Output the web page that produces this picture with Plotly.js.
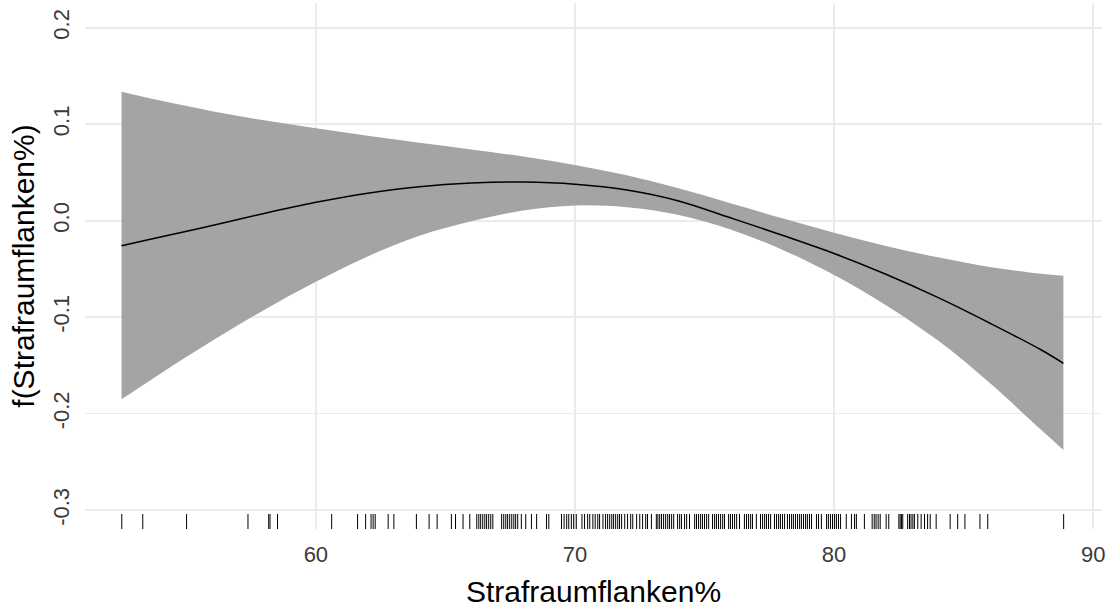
<!DOCTYPE html>
<html>
<head>
<meta charset="utf-8">
<script src="https://cdn.plot.ly/plotly-3.0.1.min.js"></script>
<style>html,body{margin:0;padding:0;background:#fff;}#chart{width:1115px;height:614px;}</style>
</head>
<body>
<div id="chart"></div>
<script>
// Smooth term estimate and confidence band
const xs = [52.5, 54, 56, 58, 60, 62, 64, 66, 68, 70, 72, 74, 76, 78, 80, 82, 84, 86, 88, 88.85];
const fit = [-0.0259, -0.0170, -0.0050, 0.0075, 0.0190, 0.0285, 0.0353, 0.0390, 0.0400, 0.0378, 0.0318, 0.0205, 0.0030, -0.0150, -0.0340, -0.0555, -0.0795, -0.1060, -0.1340, -0.1478];
const upper = [0.1337, 0.1245, 0.1135, 0.1040, 0.0957, 0.0880, 0.0808, 0.0738, 0.0665, 0.0578, 0.0470, 0.0335, 0.0180, 0.0025, -0.0125, -0.0262, -0.0380, -0.0480, -0.0550, -0.0570];
const lower = [-0.1851, -0.1585, -0.1245, -0.0925, -0.0632, -0.0370, -0.0155, -0.0005, 0.0105, 0.0158, 0.0140, 0.0060, -0.0090, -0.0300, -0.0563, -0.0875, -0.1240, -0.1680, -0.2170, -0.2376];

// Observed values (rug)
const rug = [52.51, 53.32, 55.01, 57.38, 58.18, 58.23, 58.52, 60.61, 61.61, 61.92, 62.13, 62.21, 62.29, 62.79, 63.01, 63.88, 64.37, 64.68,
  65.23, 65.39, 65.68, 65.94, 66.21, 66.29, 66.36, 66.44, 66.52, 66.59, 66.67, 66.75, 66.83, 67.17, 67.25, 67.33, 67.40, 67.48, 67.56, 67.64, 67.71, 67.79, 67.93, 68.10, 68.32, 68.52, 68.90, 68.99, 69.48, 69.58, 69.68, 69.76, 69.86, 69.95, 70.05, 70.27, 70.37, 70.49, 70.57, 70.69, 70.78, 70.88, 70.95, 71.08,
  71.18, 71.26, 71.34, 71.42, 71.49, 71.57, 71.65, 71.72, 71.80, 71.92, 72.03, 72.15, 72.23, 72.38, 72.50, 72.61, 72.73, 72.80, 72.95, 73.14, 73.20, 73.27, 73.34, 73.42, 73.50, 73.58, 73.65, 73.73, 73.81, 73.96, 74.04, 74.11, 74.23, 74.31, 74.42, 74.62, 74.69, 74.77, 74.85, 74.92, 75.00, 75.08, 75.16, 75.31, 75.39, 75.46, 75.54, 75.62, 75.70, 75.77, 75.93, 76.00, 76.08, 76.16, 76.24, 76.35, 76.54, 76.62, 76.70, 76.78, 76.85, 77.00, 77.16, 77.24, 77.32, 77.39, 77.47, 77.55, 77.70, 77.78, 77.86, 77.93, 78.01, 78.09, 78.20, 78.28, 78.36, 78.43, 78.51, 78.59, 78.67, 78.74, 78.82, 78.90, 78.97, 79.05, 79.13, 79.32, 79.40, 79.51, 79.71, 79.78, 79.86, 79.94, 80.02, 80.09, 80.17, 80.25, 80.47, 80.67, 80.79, 80.86,
  81.17, 81.47, 81.55, 81.62, 81.70, 81.78, 82.01, 82.11, 82.50, 82.55, 82.60, 82.65, 82.84, 82.91, 82.97, 83.04, 83.10, 83.23, 83.36, 83.49, 83.61, 83.71, 83.94, 84.48, 84.77, 85.05, 85.63, 85.93, 88.86];

const xTicks = [60, 70, 80, 90];
const yTicks = [-0.3, -0.2, -0.1, 0.0, 0.1, 0.2];
const yTickText = ['-0.3', '-0.2', '-0.1', '0.0', '0.1', '0.2'];

const rugX = [], rugY = [];
rug.forEach(v => { rugX.push(v, v, null); rugY.push(0, 0.0285, null); });

const FONT = 'Liberation Sans, Arial, sans-serif';

const traces = [
  {x: xs, y: lower, type: 'scatter', mode: 'lines', line: {width: 0, shape: 'spline', smoothing: 1}, hoverinfo: 'skip', showlegend: false},
  {x: xs, y: upper, type: 'scatter', mode: 'lines', line: {width: 0, shape: 'spline', smoothing: 1}, fill: 'tonexty', fillcolor: '#a4a4a4', hoverinfo: 'skip', showlegend: false},
  {x: xs, y: fit, type: 'scatter', mode: 'lines', line: {color: '#000000', width: 1.5, shape: 'spline', smoothing: 1}, showlegend: false},
  {x: rugX, y: rugY, yaxis: 'y2', type: 'scatter', mode: 'lines', line: {color: '#000000', width: 1}, hoverinfo: 'skip', showlegend: false}
];

const layout = {
  width: 1115, height: 614,
  margin: {l: 85, r: 13, t: 3, b: 85},
  paper_bgcolor: '#ffffff', plot_bgcolor: '#ffffff',
  showlegend: false,
  font: {family: FONT, color: '#000000'},
  xaxis: {
    range: [51.09, 90.34],
    tickvals: xTicks, ticktext: xTicks.map(String),
    showgrid: true, gridcolor: '#ebebeb', gridwidth: 1.6,
    zeroline: false, showline: false, ticks: '',
    ticklabelstandoff: 10,
    tickfont: {family: FONT, size: 22, color: '#3a3a3a'},
    title: {text: 'Strafraumflanken%', font: {family: FONT, size: 30, color: '#000000'}, standoff: 14}
  },
  yaxis: {
    range: [-0.3195, 0.2256],
    tickvals: yTicks, ticktext: yTickText,
    tickangle: -90,
    showgrid: true, gridcolor: '#ebebeb', gridwidth: 1.6,
    zeroline: false, showline: false, ticks: '',
    ticklabelstandoff: 11,
    tickfont: {family: FONT, size: 22, color: '#3a3a3a'},
    title: {text: 'f(Strafraumflanken%)', font: {family: FONT, size: 30, color: '#000000'}, standoff: 5}
  },
  yaxis2: {overlaying: 'y', range: [0, 1], visible: false, fixedrange: true}
};

Plotly.newPlot('chart', traces, layout, {displayModeBar: false, staticPlot: true});
</script>
</body>
</html>
